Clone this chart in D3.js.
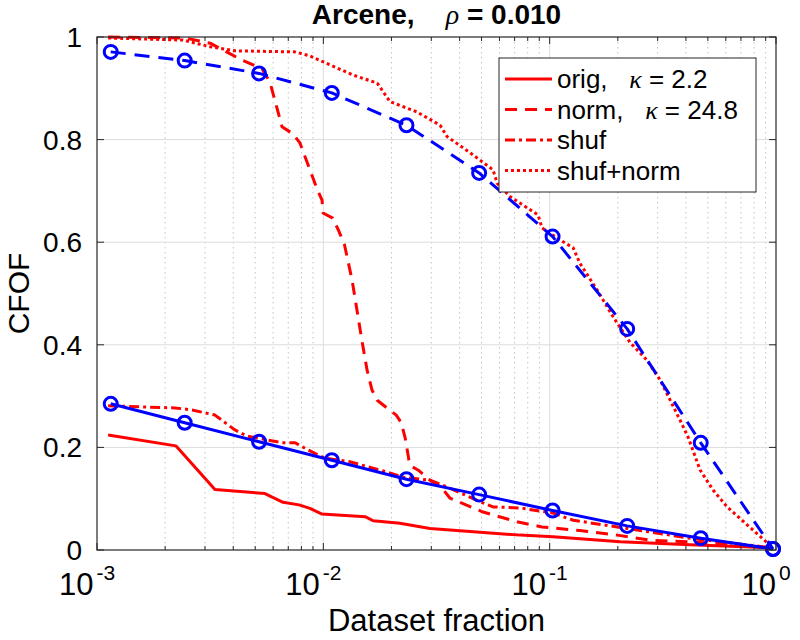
<!DOCTYPE html>
<html>
<head>
<meta charset="utf-8">
<script src="https://d3js.org/d3.v7.min.js"></script>
<style>
    body { margin: 0; background: #fff; }
    text { font-family: "Liberation Sans", Arial, Helvetica, sans-serif; fill: #000; }
</style>
</head>
<body>
<div id="chart"></div>
<script>
// values (x = dataset fraction, y = CFOF)
var origX = [0.00112, 0.00223, 0.00332, 0.00552, 0.00664, 0.00781, 0.00873, 0.00987, 0.0153, 0.0166, 0.0218, 0.0296, 0.0445, 0.074, 0.1035, 0.205, 0.417, 0.97]
var origY = [0.224, 0.203, 0.118, 0.110, 0.093, 0.088, 0.081, 0.070, 0.065, 0.057, 0.052, 0.042, 0.036, 0.029, 0.026, 0.016, 0.010, 0.004]

var normX = [0.00112, 0.00245, 0.00316, 0.00437, 0.00536, 0.00581, 0.00657, 0.00735, 0.00789, 0.00938, 0.00987, 0.00997, 0.0110, 0.0117, 0.0124, 0.0134, 0.0148, 0.0156, 0.0164, 0.0173, 0.0191, 0.0210, 0.0221, 0.0230, 0.0239, 0.0247, 0.0262, 0.0296, 0.0331, 0.0363, 0.0508, 0.0718, 0.0925, 0.136, 0.199, 0.278, 0.417, 0.97]
var normY = [1.0, 0.998, 0.988, 0.955, 0.938, 0.912, 0.825, 0.811, 0.793, 0.704, 0.682, 0.657, 0.647, 0.622, 0.595, 0.526, 0.409, 0.351, 0.312, 0.292, 0.277, 0.263, 0.248, 0.218, 0.175, 0.162, 0.156, 0.136, 0.123, 0.101, 0.074, 0.055, 0.045, 0.038, 0.029, 0.019, 0.016, 0.004]

var shufX = [0.00112, 0.00221, 0.00263, 0.00332, 0.00407, 0.00460, 0.00514, 0.00657, 0.00750, 0.00856, 0.01017, 0.0131, 0.0191, 0.0225, 0.0296, 0.0352, 0.0493, 0.0562, 0.074, 0.1035, 0.127, 0.199, 0.278, 0.417, 0.97]
var shufY = [0.281, 0.277, 0.273, 0.263, 0.234, 0.222, 0.218, 0.209, 0.209, 0.195, 0.179, 0.172, 0.152, 0.142, 0.136, 0.123, 0.094, 0.084, 0.082, 0.072, 0.058, 0.045, 0.035, 0.023, 0.004]

var shufNormX = [0.00112, 0.00240, 0.00316, 0.00407, 0.00750, 0.00873, 0.01017, 0.0135, 0.0173, 0.0197, 0.0259, 0.0328, 0.0352, 0.0459, 0.0562, 0.0586, 0.0668, 0.0889, 0.0925, 0.108, 0.127, 0.136, 0.162, 0.191, 0.227, 0.269, 0.308, 0.377, 0.409, 0.462, 0.527, 0.608, 0.745, 0.97]
var shufNormY = [0.998, 0.994, 0.981, 0.973, 0.971, 0.963, 0.950, 0.926, 0.910, 0.874, 0.854, 0.828, 0.806, 0.770, 0.741, 0.715, 0.689, 0.653, 0.628, 0.608, 0.589, 0.559, 0.507, 0.454, 0.404, 0.370, 0.331, 0.253, 0.220, 0.156, 0.117, 0.084, 0.049, 0.004]

// blue reference curves with circle markers
var blueX = [0.00115, 0.00244, 0.0052, 0.0109, 0.0233, 0.0488, 0.103, 0.22, 0.465, 0.97]
var blueLowY = [0.285, 0.248, 0.211, 0.175, 0.138, 0.108, 0.077, 0.047, 0.023, 0.002]
var blueHighY = [0.971, 0.954, 0.929, 0.891, 0.828, 0.735, 0.611, 0.431, 0.209, 0.002]

var yTicks = [0, 0.2, 0.4, 0.6, 0.8, 1]
var yTickLabels = ["0", "0.2", "0.4", "0.6", "0.8", "1"]
var xTicks = [0.001, 0.01, 0.1, 1]
var xTickExps = ["-3", "-2", "-1", "0"]

var legendNames = ["orig,", "norm,", "shuf", "shuf+norm"]
var legendKappa = ["2.2", "24.8", null, null]

// set the dimensions and margins of the graph
var margin = { top: 37, right: 24, bottom: 90, left: 97 };
var width = 800 - margin.left - margin.right;
var height = 640 - margin.top - margin.bottom;

var svgRoot = d3.select("#chart")
    .append("svg")
    .attr("width", 800)
    .attr("height", 640);

var svg = svgRoot.append("g")
    .attr("transform", "translate(" + margin.left + "," + margin.top + ")");

var x = d3.scaleLog().domain([1e-3, 1]).range([0, width]);
var y = d3.scaleLinear().domain([0, 1]).range([height, 0]);

var minorX = x.ticks().filter(function (t) { return Math.abs(Math.log10(t) - Math.round(Math.log10(t))) > 1e-6; });

// grid
svg.append("g").selectAll("line.minor")
    .data(minorX).enter().append("line")
    .attr("x1", function (d) { return x(d) }).attr("x2", function (d) { return x(d) })
    .attr("y1", 0).attr("y2", height)
    .attr("stroke", "#c4c4c4").attr("stroke-width", 1).attr("stroke-dasharray", "1.5,3.5");

svg.append("g").selectAll("line.majx")
    .data(xTicks.slice(1, 3)).enter().append("line")
    .attr("x1", function (d) { return x(d) }).attr("x2", function (d) { return x(d) })
    .attr("y1", 0).attr("y2", height)
    .attr("stroke", "#dcdcdc").attr("stroke-width", 1);

svg.append("g").selectAll("line.majy")
    .data(yTicks.slice(1, 5)).enter().append("line")
    .attr("x1", 0).attr("x2", width)
    .attr("y1", function (d) { return y(d) }).attr("y2", function (d) { return y(d) })
    .attr("stroke", "#dcdcdc").attr("stroke-width", 1);

// clip lines to the axes box
svgRoot.append("defs").append("clipPath").attr("id", "clip")
    .append("rect").attr("x", -9).attr("y", -9).attr("width", width + 18).attr("height", height + 18);

var plot = svg.append("g").attr("clip-path", "url(#clip)");

var line = d3.line()
    .x(function (d) { return x(d[0]) })
    .y(function (d) { return y(d[1]) });

var series = [
    { data: d3.zip(origX, origY), color: "#ff0000", dash: null },
    { data: d3.zip(normX, normY), color: "#ff0000", dash: "12,8" },
    { data: d3.zip(shufX, shufY), color: "#ff0000", dash: "10,4,3,4" },
    { data: d3.zip(shufNormX, shufNormY), color: "#ff0000", dash: "3,3" },
    { data: d3.zip(blueX, blueLowY), color: "#0000ff", dash: null, marks: true },
    { data: d3.zip(blueX, blueHighY), color: "#0000ff", dash: "15,9", marks: true }
];

series.forEach(function (s) {
    plot.append("path")
        .datum(s.data)
        .attr("d", line)
        .attr("fill", "none")
        .attr("stroke", s.color)
        .attr("stroke-width", 3)
        .attr("stroke-dasharray", s.dash)
        .attr("stroke-linejoin", "round");
    if (s.marks) {
        plot.append("g").selectAll("circle")
            .data(s.data).enter().append("circle")
            .attr("cx", function (d) { return x(d[0]) })
            .attr("cy", function (d) { return y(d[1]) })
            .attr("r", 6.5)
            .attr("fill", "none")
            .attr("stroke", s.color)
            .attr("stroke-width", 3);
    }
});

// box and ticks
var axisColor = "#262626";
svg.append("rect").attr("x", 0).attr("y", 0).attr("width", width).attr("height", height)
    .attr("fill", "none").attr("stroke", axisColor).attr("stroke-width", 1.2);

var ticks = svg.append("g").attr("stroke", axisColor).attr("stroke-width", 1);
yTicks.forEach(function (t) {
    ticks.append("line").attr("x1", 0).attr("x2", 7).attr("y1", y(t)).attr("y2", y(t));
    ticks.append("line").attr("x1", width).attr("x2", width - 7).attr("y1", y(t)).attr("y2", y(t));
});
xTicks.forEach(function (t) {
    ticks.append("line").attr("x1", x(t)).attr("x2", x(t)).attr("y1", height).attr("y2", height - 7);
    ticks.append("line").attr("x1", x(t)).attr("x2", x(t)).attr("y1", 0).attr("y2", 7);
});
minorX.forEach(function (t) {
    ticks.append("line").attr("x1", x(t)).attr("x2", x(t)).attr("y1", height).attr("y2", height - 4);
    ticks.append("line").attr("x1", x(t)).attr("x2", x(t)).attr("y1", 0).attr("y2", 4);
});

// tick labels
svg.append("g").selectAll("text")
    .data(yTicks).enter().append("text")
    .attr("x", -15)
    .attr("y", function (d) { return y(d) })
    .attr("dy", "0.36em")
    .attr("text-anchor", "end")
    .style("font-size", "28px")
    .text(function (d, i) { return yTickLabels[i] });

// "10" sits centred on the tick, exponent to its right
var xl = svg.append("g").selectAll("text")
    .data(xTicks).enter().append("text")
    .attr("x", function (d) { return x(d) - 10 })
    .attr("y", height + 45)
    .attr("text-anchor", "middle")
    .style("font-size", "31px");
xl.append("tspan").text("10");
xl.append("tspan").attr("dx", 3).attr("dy", -15).style("font-size", "21px").text(function (d, i) { return xTickExps[i] });

// axis labels and title
svg.append("text")
    .attr("x", width / 2).attr("y", height + 81)
    .attr("text-anchor", "middle")
    .style("font-size", "31px")
    .text("Dataset fraction");

svg.append("text")
    .attr("transform", "translate(-68," + (height / 2) + ") rotate(-90)")
    .attr("text-anchor", "middle")
    .style("font-size", "30px")
    .text("CFOF");

var title = svg.append("text")
    .attr("x", width / 2).attr("y", -13)
    .attr("text-anchor", "middle")
    .style("font-size", "28px")
    .style("font-weight", "bold");
title.append("tspan").text("Arcene,\u00a0\u00a0\u00a0\u00a0");
title.append("tspan").style("font-style", "italic").style("font-weight", "normal")
    .style("font-family", "'Liberation Serif', serif").text("\u03c1");
title.append("tspan").text(" = 0.010");

// legend
var leg = svg.append("g").attr("transform", "translate(" + (499 - margin.left) + "," + (58 - margin.top) + ")");
leg.append("rect").attr("width", 257).attr("height", 134)
    .attr("fill", "#fff").attr("stroke", axisColor).attr("stroke-width", 1);

legendNames.forEach(function (name, i) {
    var yy = 21 + i * 30.5;
    leg.append("line")
        .attr("x1", 6).attr("x2", 53).attr("y1", yy).attr("y2", yy)
        .attr("stroke", "#ff0000").attr("stroke-width", 3)
        .attr("stroke-dasharray", series[i].dash);
    var t = leg.append("text")
        .attr("x", 58).attr("y", yy).attr("dy", "0.36em")
        .style("font-size", "26px");
    t.append("tspan").text(name);
    if (legendKappa[i]) {
        t.append("tspan").text("\u00a0\u00a0\u00a0");
        t.append("tspan").style("font-style", "italic").style("font-family", "'Liberation Serif', serif").text("\u03ba");
        t.append("tspan").text(" = " + legendKappa[i]);
    }
});
</script>
</body>
</html>
